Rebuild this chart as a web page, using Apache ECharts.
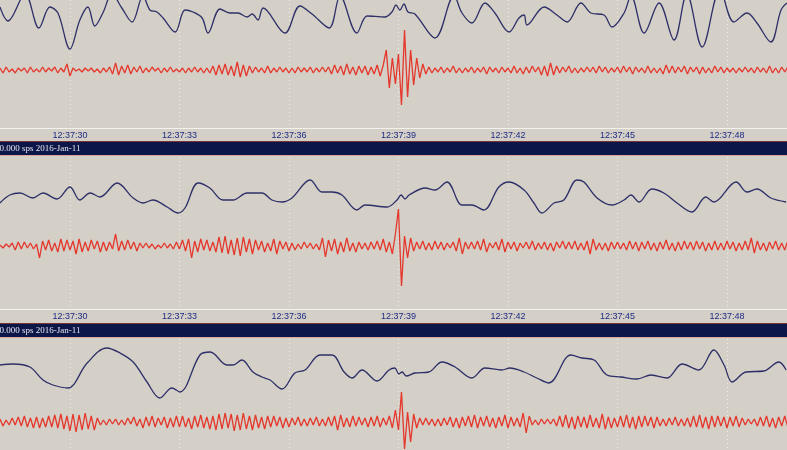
<!DOCTYPE html>
<html><head><meta charset="utf-8">
<script src="https://cdn.jsdelivr.net/npm/echarts@6/dist/echarts.min.js"></script>
<style>html,body{margin:0;padding:0;background:#d4d0c8;overflow:hidden}#c{width:787px;height:450px}</style>
</head><body><div id="c"></div>
<script>
// ---- data (seconds after 12:37:00, amplitudes in counts) ----
const tickSeconds = [30, 33, 36, 39, 42, 45, 48];
const tickPrefix = '12:37:';
const headerText = '40.000 sps 2016-Jan-11';
const viewStart = 28.082, viewEnd = 49.644;

const blue1T = [28.08,28.30,28.77,29.15,29.45,29.67,30.00,30.27,30.49,30.68,30.90,31.15,31.42,31.70,32.00,32.19,32.38,32.55,32.88,33.15,33.37,33.62,33.78,34.11,34.38,34.60,34.85,34.99,35.15,35.29,35.89,36.30,36.63,37.10,37.40,37.86,38.14,38.63,38.82,38.93,39.04,39.15,39.26,39.45,40.00,40.52,40.74,41.01,41.37,41.64,42.03,42.30,42.44,42.52,42.99,43.34,43.62,44.00,44.27,44.63,44.85,45.18,45.37,45.73,46.14,46.55,46.90,47.32,47.81,48.19,48.55,48.82,49.20,49.48,49.64];
const blue1V = [15,1,28,-6,15,9,-27,2,15,-4,9,28,14,0,26,12,10,4,-10,12,10,4,-11,13,9,9,5,8,2,14,-11,16,8,-6,26,-11,6,5,10,17,12,18,10,8,-16,26,9,-1,19,9,-10,4,7,-3,15,7,0,19,9,7,-5,9,26,-11,19,-18,28,-25,32,0,9,-1,-20,12,19];

const blue2T = [28.08,28.35,28.63,28.98,29.26,29.64,30.00,30.27,30.55,30.82,31.29,31.73,32.00,32.27,32.66,32.96,33.15,33.51,33.83,34.19,34.47,34.85,35.26,35.53,35.81,36.08,36.58,36.90,37.18,37.45,37.86,38.08,38.69,38.96,39.07,39.18,39.29,39.73,40.00,40.33,40.74,41.01,41.34,41.75,42.03,42.44,42.71,42.93,43.26,43.53,43.89,44.08,44.44,44.85,45.18,45.37,45.59,45.94,46.27,46.63,47.04,47.42,47.64,48.25,48.55,48.82,49.20,49.62];
const blue2V = [-6,2,4,-1,4,-2,10,-3,4,0,14,-1,-6,-3,-10,-16,-11,14,9,-3,-3,4,4,-3,-5,-1,17,5,5,2,-13,-8,-10,-3,2,-2,2,9,7,15,-8,-8,-13,10,15,7,-6,-16,-6,-3,17,15,-1,-8,-3,2,-5,8,4,-6,-15,0,-5,15,5,8,-1,-5];

const blue3T = [28.08,28.44,28.90,29.26,29.53,29.94,30.47,31.01,31.37,31.73,32.11,32.46,32.79,33.01,33.56,33.84,34.30,34.47,34.71,35.01,35.26,35.48,35.81,36.16,36.44,36.85,37.18,37.51,37.73,38.00,38.41,38.74,38.90,39.01,39.10,39.21,39.45,39.83,40.19,40.55,41.01,41.37,41.83,42.05,42.44,42.79,43.12,43.72,44.03,44.36,44.71,45.10,45.53,45.92,46.36,46.77,47.23,47.64,47.92,48.14,48.52,49.01,49.42,49.62];
const blue3V = [5,6,3,-10,-15,-18,7,22,17,8,-12,-28,-18,-22,15,18,5,5,10,-2,-7,-10,-19,-3,0,15,15,-2,-8,0,-11,0,2,-4,-2,-6,-3,-2,8,3,-8,2,0,2,-2,-8,-13,15,12,10,-5,-7,-9,-5,-8,6,0,20,5,-12,-2,-1,8,0];

const redStart = 28.082, redRate = 12; // samples per second
const red1 = [2,-3,3,-2,1,-3,2,-1,2,-3,3,-2, 1,-2,3,-2,2,-1,3,-3,2,-2,6,-6, 2,-1,1,-2,2,-1,2,-2,1,-3,2,-2, 3,-4,7,-5,4,-3,5,-4,3,-2,4,-3, 2,-2,3,-1,2,-3,2,-2,3,-2,1,-2, 2,-3,2,-2,3,-2,2,-3,2,-3,4,-5, 5,-4,6,-5,4,-6,8,-7,5,-6,4,-3, 3,-2,2,-3,4,-3,2,-2,3,-2,2,-3, 2,-3,3,-2,2,-2,3,-3,2,-2,3,-2, 3,-4,5,-3,4,-5,6,-4,3,-5,4,-3, 4,-5,3,-4,5,-6,5,20,-18,12,-14,16, -35,40,-27,20,-15,12,-8,6,-4,3,-3,2, -2,3,-3,2,-2,4,-3,2,-3,2,-2,3, -3,2,-2,3,-4,3,-2,2,-3,3,-2,2, -3,4,-3,2,-4,3,-3,4,-2,3,-5,4, -6,7,-5,4,-3,3,-2,4,-3,2,-3,2, -2,3,-2,3,-3,4,-2,3,-3,2,-2,3, -3,4,-2,3,-4,3,-2,2,-3,4,-3,2, -3,2,-4,5,-3,4,-3,3,-2,4,-4,3, -2,3,-4,3,-3,2,-3,4,-2,3,-3,2, -2,2,-3,2,-2,3,-2,2,-3,3,-2,2, -3,4,-3,2,-3,3,-2,3,-2,3,-3,2];
const red2 = [1,-2,2,-1,3,-4,4,-3,4,-2,3,-3, 2,-12,5,-4,6,-5,3,-6,7,-5,6,-4, 5,-8,7,-6,4,-5,6,-3,5,-6,4,-5, 4,-3,12,-5,5,-4,6,-3,4,-5,3,-2, 3,-2,2,-3,1,-2,3,-2,2,-3,4,-3, 6,-5,7,-12,5,-6,7,-4,6,-5,4,-6, 9,-7,10,-8,6,-9,8,-10,9,-6,7,-8, 6,-4,5,-6,3,-5,7,-8,5,-3,4,-5, 3,-4,2,-3,4,-2,3,-3,2,-4,8,-11, 6,-5,7,-8,4,-6,8,-5,3,-6,4,-3, 3,-4,4,-3,5,-4,7,-6,4,-8,12,37, -40,10,-12,8,-5,4,-3,5,-4,3,-4,5, -3,4,-4,3,-2,4,-5,8,-8,4,-3,4, -3,5,-4,7,-6,3,-2,4,-4,7,-6,4, -3,4,-5,3,-2,4,-3,5,-4,3,-3,4, -4,3,-5,4,-2,5,-3,4,-3,5,-4,3, -4,5,-8,7,-4,3,-4,3,-5,4,-3,4, -3,3,-4,5,-3,4,-5,4,-3,5,-4,3, -5,4,-3,6,-4,3,-5,4,-4,5,-3,4, -4,5,-3,4,-5,3,-4,5,-4,3,-4,5, -3,4,-5,3,-4,5,-4,8,-7,5,-4,3, -5,4,-3,5,-4,3,-4,5,-3,4,-5,3];
const red3 = [3,-4,2,-3,4,-3,5,-4,6,-5,4,-6, 5,-6,4,-5,6,-5,7,-6,8,-7,6,-9, 8,-10,7,-8,9,-7,6,-8,4,-3,2,-3, 3,-2,3,-3,2,-3,4,-2,5,-4,3,-6, 5,-4,6,-5,4,-3,5,-6,4,-5,6,-5, 6,-5,4,-7,6,-5,7,-6,5,-7,6,-8, 8,-7,9,-6,8,-9,7,-8,9,-7,6,-8, 7,-6,5,-7,6,-5,6,-4,5,-6,4,-5, 4,-3,5,-4,3,-4,4,-3,5,-4,3,-4, 5,-4,6,-8,7,-5,4,-5,6,-4,5,-3, 4,-5,5,-4,6,-5,4,-3,6,-6,12,-8, 30,-27,10,-20,8,-6,4,-3,4,-3,3,-4, 3,-4,4,-3,5,-5,4,-6,5,-4,6,-5, 7,-6,5,-4,6,-5,4,-6,5,-4,7,-6, 5,-4,4,-5,9,-11,6,-3,2,-3,3,-2, 3,-2,3,-4,6,-5,7,-6,5,-7,6,-5, 5,-6,7,-5,4,-6,8,-7,5,-6,4,-5, 6,-5,7,-6,5,-7,6,-5,6,-4,5,-6, 5,-4,3,-4,4,-3,5,-4,3,-4,4,-5, 6,-5,7,-6,5,-7,6,-5,6,-4,5,-6, 5,-4,6,-5,4,-3,3,-2,3,-4,5,-4, 6,-5,4,-6,5,-4,6,-5,4,-5,6,-4];

// ---- layout / style ----
const BG = '#d4d0c8', BLUE = '#2e2f68', RED = '#e5372b', NAVY = '#0c1648';
const panels = [
  {top: -24, height: 152, blueC: 46, redC: 94},
  {top: 157, height: 152, blueC: 40, redC: 89},
  {top: 339, height: 152, blueC: 31, redC: 83}
];
const headerTops = [141, 323];
const blues = [[blue1T, blue1V], [blue2T, blue2V], [blue3T, blue3V]];
const reds = [red1, red2, red3];

const grid = [], xAxis = [], yAxis = [], series = [];
panels.forEach((p, i) => {
  grid.push({left: 0, right: 0, top: p.top, height: p.height, containLabel: false, outerBoundsMode: 'none'});
  xAxis.push({
    gridIndex: i, type: 'value', min: viewStart, max: viewEnd,
    axisLine: {show: true, onZero: false, lineStyle: {color: '#f3f1ec', width: 1}},
    axisTick: {show: false, customValues: tickSeconds},
    axisLabel: {customValues: tickSeconds, formatter: v => tickPrefix + v, color: '#1e2a84',
      fontSize: 9, margin: 3, fontFamily: "'Liberation Sans Narrow','Arial Narrow','Liberation Sans',sans-serif"},
    splitLine: {show: true, lineStyle: {color: '#efede7', width: 1, type: [1, 3]}}
  });
  yAxis.push({gridIndex: i, type: 'value', min: p.blueC - p.height, max: p.blueC, show: false, splitLine: {show: false}});
  yAxis.push({gridIndex: i, type: 'value', min: p.redC - p.height, max: p.redC, show: false, splitLine: {show: false}});
  const [T, V] = blues[i];
  series.push({type: 'line', xAxisIndex: i, yAxisIndex: 2 * i, showSymbol: false, symbol: 'none',
    smooth: 0.35, lineStyle: {color: BLUE, width: 1.3}, data: T.map((t, k) => [t, V[k]])});
  series.push({type: 'line', xAxisIndex: i, yAxisIndex: 2 * i + 1, showSymbol: false, symbol: 'none',
    lineStyle: {color: RED, width: 1.3}, data: reds[i].map((v, k) => [redStart + k / redRate, v])});
});

const graphic = [];
headerTops.forEach(y => {
  graphic.push({type: 'rect', shape: {x: 0, y: y, width: 787, height: 1}, style: {fill: '#7a3434'}, silent: true});
  graphic.push({type: 'rect', shape: {x: 0, y: y + 1, width: 787, height: 13}, style: {fill: NAVY}, silent: true});
  graphic.push({type: 'rect', shape: {x: 0, y: y + 14, width: 787, height: 1}, style: {fill: '#d9a6a0'}, silent: true});
  graphic.push({type: 'text', x: -5, y: y + 7.5, style: {text: headerText, fill: '#e6e6ee',
    font: "9px 'Liberation Serif', serif", verticalAlign: 'middle'}, silent: true});
});

const chart = echarts.init(document.getElementById('c'), null, {renderer: 'canvas'});
chart.setOption({backgroundColor: BG, animation: false, grid, xAxis, yAxis, series, graphic});
</script></body></html>
